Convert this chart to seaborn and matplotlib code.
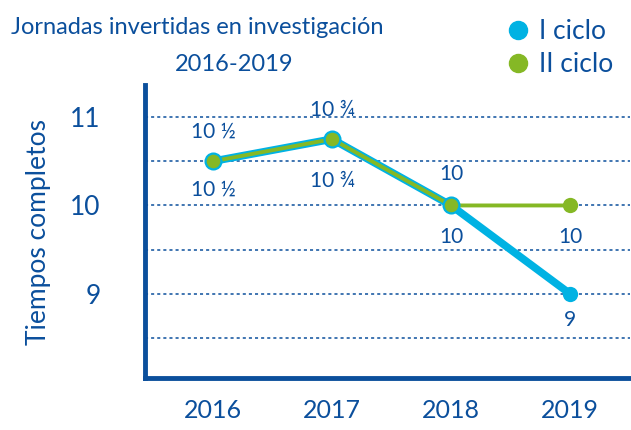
import matplotlib
matplotlib.use("Agg")
import pandas as pd
import seaborn as sns
import matplotlib.pyplot as plt
from matplotlib.lines import Line2D

# data
years = ["2016", "2017", "2018", "2019"]
ciclo1 = [10.5, 10.75, 10.0, 9.0]
ciclo2 = [10.5, 10.75, 10.0, 10.0]
labels1 = ["10 ½", "10 ¾", "10", "9"]
labels2 = ["10 ½", "10 ¾", "10", "10"]

dark = "#0b4f9c"
cyan = "#00b2e3"
green = "#85b825"

sns.set_style("white")
plt.rcParams["font.family"] = ["Lato", "DejaVu Sans"]

df1 = pd.DataFrame({"year": range(len(years)), "val": ciclo1})
df2 = pd.DataFrame({"year": range(len(years)), "val": ciclo2})

fig = plt.figure(figsize=(6.31, 4.3), dpi=100)
ax = fig.add_axes([0.23, 0.121, 0.768, 0.681])

sns.lineplot(data=df1, x="year", y="val", ax=ax, color=cyan, lw=5.5,
             marker="o", markersize=11, markeredgewidth=0, zorder=3)
sns.lineplot(data=df2, x="year", y="val", ax=ax, color=green, lw=2.8,
             marker="o", markersize=11, markeredgewidth=0, zorder=4)
# cyan rim on the shared points
ax.scatter(range(3), ciclo2[:3], s=130, color=green, edgecolor=cyan,
           linewidth=1.6, zorder=5)

# value labels: (offset above for II ciclo, offset below for I ciclo)
up = [0.33, 0.33, 0.36, None]
down = [0.32, 0.47, 0.36, 0.3]
fs = 15
for i in range(len(years)):
    if up[i] is not None:
        ax.text(i, ciclo2[i] + up[i], labels2[i], ha="center", va="center", color=dark, fontsize=fs)
    else:
        ax.text(i, ciclo2[i] - 0.36, labels2[i], ha="center", va="center", color=dark, fontsize=fs)
    ax.text(i, ciclo1[i] - down[i], labels1[i], ha="center", va="center", color=dark, fontsize=fs)

ax.set_xlim(-0.57, 3.5)
ax.set_ylim(8.05, 11.36)
ax.set_xticks(range(len(years)))
ax.set_xticklabels(years)
ax.set_yticks([9, 10, 11])
ax.set_yticks([8.5, 9.5, 10.5], minor=True)
ax.grid(True, which="both", axis="y", color=dark, ls=(0, (2, 2)), lw=1.1)
ax.tick_params(axis="y", length=0, pad=32, labelsize=19, labelcolor=dark, which="both")
ax.tick_params(axis="x", length=0, pad=15, labelsize=18, labelcolor=dark)
ax.set_xlabel("")
ax.set_ylabel("Tiempos completos", fontsize=19, color=dark, labelpad=14)

for s in ["top", "right"]:
    ax.spines[s].set_visible(False)
for s in ["left", "bottom"]:
    ax.spines[s].set_color(dark)
    ax.spines[s].set_linewidth(3.5)

fig.text(0.313, 0.937, "Jornadas invertidas en investigación", ha="center", va="center",
         fontsize=17, color=dark)
fig.text(0.371, 0.849, "2016-2019", ha="center", va="center", fontsize=17, color=dark)

handles = [Line2D([], [], ls="", marker="o", color=cyan, markersize=13),
           Line2D([], [], ls="", marker="o", color=green, markersize=13)]
leg = fig.legend(handles, ["I ciclo", "II ciclo"], loc="upper right",
                 bbox_to_anchor=(1.01, 1.01), frameon=False, fontsize=19,
                 handletextpad=0.3, labelspacing=0.3, handlelength=1.0)
for t in leg.get_texts():
    t.set_color(dark)

fig.savefig("out.png", dpi=100)
